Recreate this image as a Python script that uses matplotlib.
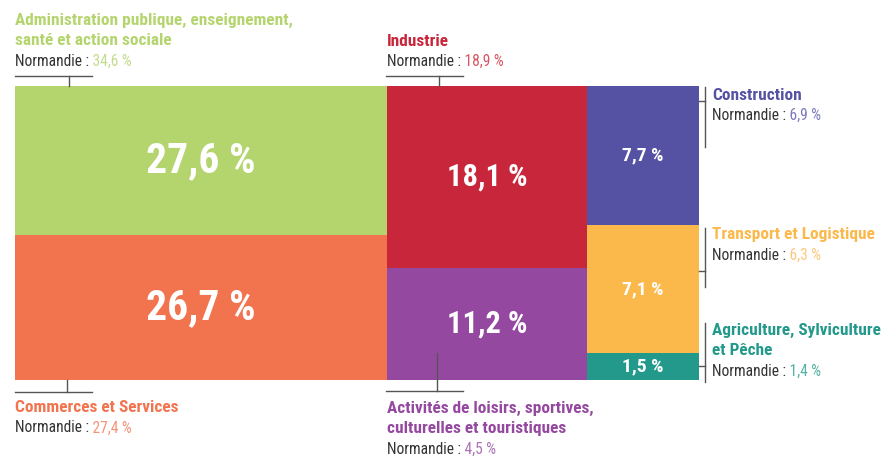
import matplotlib
matplotlib.use("Agg")
import matplotlib.pyplot as plt
from matplotlib import font_manager
from matplotlib.patches import Rectangle

# data
sectors = ["Administration publique, enseignement,\nsanté et action sociale",
           "Commerces et Services",
           "Industrie",
           "Activités de loisirs, sportives,\nculturelles et touristiques",
           "Construction",
           "Transport et Logistique",
           "Agriculture, Sylviculture\net Pêche"]
values = [27.6, 26.7, 18.1, 11.2, 7.7, 7.1, 1.5]
normandie = [34.6, 27.4, 18.9, 4.5, 6.9, 6.3, 1.4]
columns = [[0, 1], [2, 3], [4, 5, 6]]
colors = ["#b4d56e", "#f2744f", "#c8273b", "#9548a0", "#5552a4", "#fbb84b", "#22998a"]
light = ["#c3dc8f", "#f4937a", "#d85663", "#ac72b5", "#7d7ab8", "#f9c97f", "#54b1a3"]

names = {f.name for f in font_manager.fontManager.ttflist}
family = "DejaVu Sans"
for cand in ["Roboto Condensed", "Liberation Sans Narrow", "DejaVu Sans Condensed",
             "Open Sans Condensed", "Roboto"]:
    if cand in names:
        family = cand
        break
plt.rcParams["font.family"] = [family, "DejaVu Sans"]


def fmt(v):
    return f"{v:.1f}".replace(".", ",") + " %"


fig = plt.figure(figsize=(8.81, 4.57), dpi=100)
ax = fig.add_axes([0, 0, 1, 1])
ax.set_xlim(0, 881)
ax.set_ylim(457, 0)
ax.axis("off")

# treemap box
X0, Y0, W, H = 15, 86, 684, 294
total = sum(values)
label_sizes = {0: 30, 1: 30, 2: 22, 3: 22, 4: 14, 5: 14, 6: 14}
x = X0
for col in columns:
    csum = sum(values[i] for i in col)
    cw = W * csum / total
    y = Y0
    for i in col:
        ch = H * values[i] / csum
        ax.add_patch(Rectangle((x, y), cw, ch, facecolor=colors[i], edgecolor="none", lw=0))
        ax.text(x + cw / 2, y + ch / 2, fmt(values[i]), color="white", fontsize=label_sizes[i],
                fontweight="bold", ha="center", va="center")
        y += ch
    x += cw

# labels: (index, x, title y-center, normandie y)
labels = [(0, 15, 30.5, 61), (2, 387, 41, 61), (4, 712, 95, 115), (5, 712, 235, 255),
          (6, 712, 340.5, 371), (1, 15, 408, 428), (3, 387, 418.5, 449)]
for i, lx, ty, ny in labels:
    ax.text(lx, ty, sectors[i], color=colors[i], fontsize=12.4, fontweight="bold",
            ha="left", va="center", linespacing=1.38)
    t = ax.text(lx, ny, "Normandie :", color="#333333", fontsize=11.2, ha="left", va="center")
    ax.annotate(" " + fmt(normandie[i]), xycoords=t, xy=(1, 0.5), va="center", ha="left",
                color=light[i], fontsize=11.2)

lc = dict(color="#555555", lw=1.0)
# top / bottom brackets
ax.plot([15, 92], [76, 76], **lc)
ax.plot([69, 69], [76, 86], **lc)
ax.plot([386, 463], [76, 76], **lc)
ax.plot([439, 439], [76, 86], **lc)
ax.plot([15, 92], [392, 392], **lc)
ax.plot([67, 67], [380, 392], **lc)
ax.plot([386, 463], [391, 391], **lc)
ax.plot([437, 437], [353, 391], **lc)
# right brackets
for y1, y2, ty in [(87, 147, 101), (228, 287, 271), (323, 382, 366)]:
    ax.plot([705, 705], [y1, y2], **lc)
    ax.plot([699, 705], [ty, ty], **lc)

fig.savefig("out.png", dpi=100)
